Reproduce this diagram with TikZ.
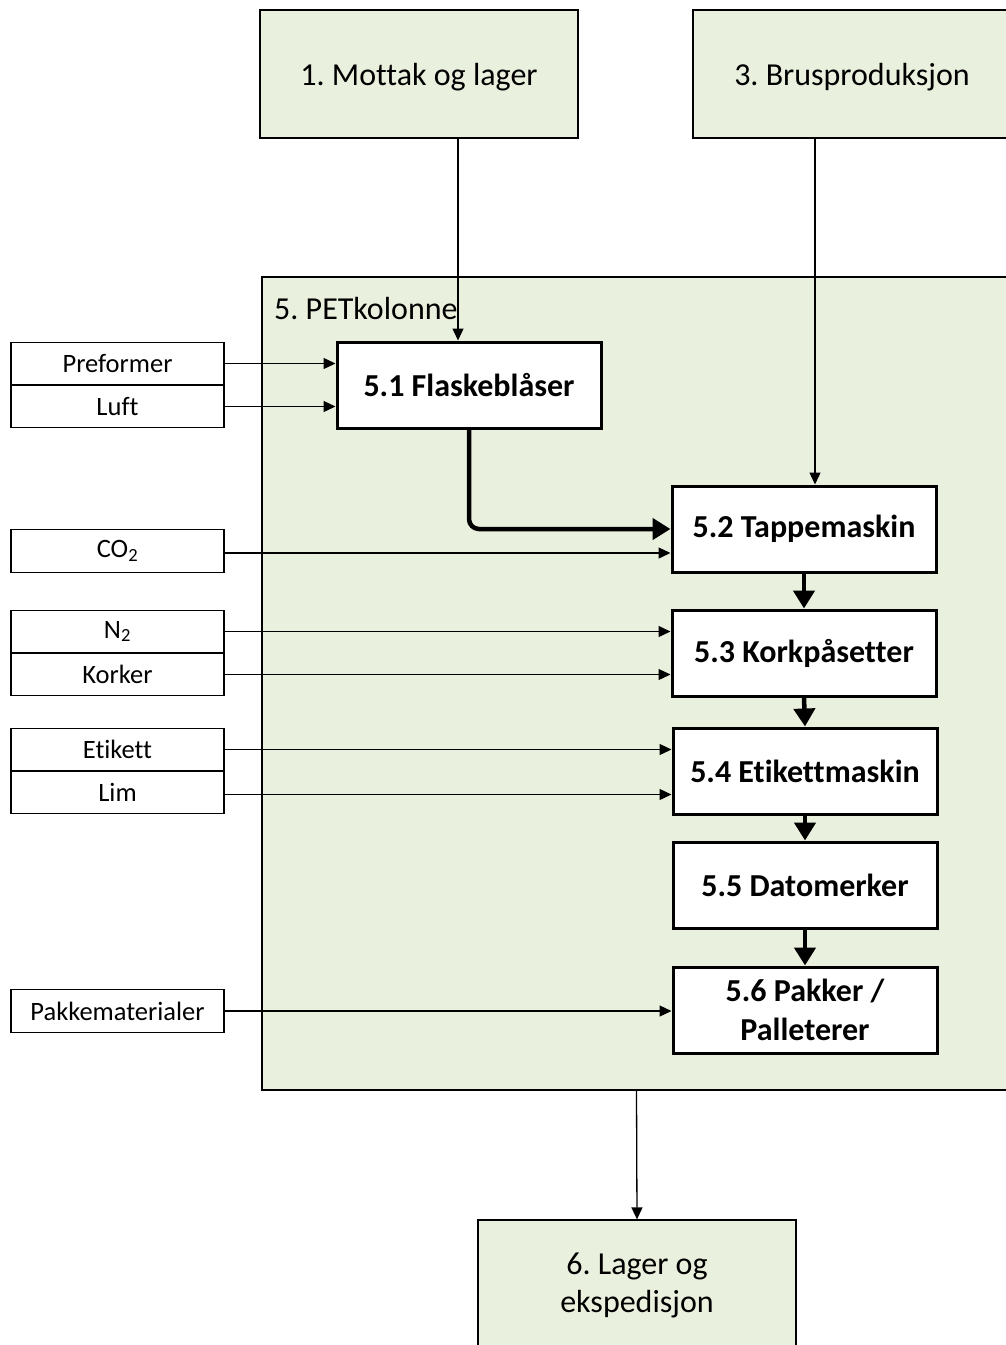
\documentclass[tikz,border=0pt]{standalone}
\usepackage{fontspec}
\setmainfont{Carlito}[Ligatures=CommonOff]
\usetikzlibrary{arrows.meta,positioning}
\definecolor{petgreen}{HTML}{EAF0DE}
\frenchspacing

\tikzset{
  area/.style={draw, fill=petgreen, line width=1.3pt, minimum width=318pt, minimum height=128pt,
    font=\fontsize{32}{38}\selectfont, align=center, inner sep=0pt},
  stage/.style={draw, fill=white, line width=3pt, minimum width=264pt, minimum height=86pt,
    font=\fontsize{32}{39}\selectfont\bfseries, align=center, inner sep=0pt},
  input/.style={draw, fill=white, line width=1.4pt, minimum width=213pt, minimum height=42.5pt,
    font=\fontsize{26.5}{30}\selectfont, inner sep=0pt},
  feed/.style={-{Triangle[length=12pt,width=11pt]}, line width=1.3pt},
  flow/.style={-{Triangle[length=18pt,width=21pt]}, line width=4.5pt},
}

\begin{document}
\begin{tikzpicture}[x=1pt,y=-1pt]
  \useasboundingbox (0,0) rectangle (1006,1345);

  % areas
  \node[area, text depth=-4pt] (m1) at (419,74) {1. Mottak og lager};
  \node[area, text depth=-4pt] (b3) at (852,74) {3. Brusproduksjon};
  \node[area, minimum width=749pt, minimum height=813pt] (pet) at (636.5,683.5) {};
  \node[anchor=west, inner sep=0pt, font=\fontsize{32}{38}\selectfont] (petlabel) at (274,309) {5. PETkolonne};
  \node[area, minimum height=130pt] (lager) at (637,1285) {6. Lager og\\ekspedisjon};

  % stages in the PET line
  \node[stage] (s51) at (469,385) {5.1 Flaskeblåser};
  \node[stage] (s52) at (804,529) {5.2 Tappemaskin};
  \node[stage] (s53) at (804,653) {5.3 Korkpåsetter};
  \node[stage] (s54) at (805,771) {5.4 Etikettmaskin};
  \node[stage] (s55) at (805,885) {5.5 Datomerker};
  \node[stage] (s56) at (805,1010) {5.6 Pakker /\\Palleterer};

  % inputs
  \node[input] (pre) at (117.5,363.5) {Preformer};
  \node[input] (luft) at (117.5,406.5) {Luft};
  \node[input] (co2) at (117.5,551) {CO\textsubscript{2}};
  \node[input] (n2) at (117.5,631.5) {N\textsubscript{2}};
  \node[input] (kork) at (117.5,674.5) {Korker};
  \node[input] (etik) at (117.5,749.5) {Etikett};
  \node[input] (lim) at (117.5,792.5) {Lim};
  \node[input] (pakk) at (117.5,1011) {Pakkematerialer};

  % feeds
  \draw[feed] ([xshift=39pt]m1.south) -- ([xshift=39pt]m1.south |- s51.north);
  \draw[feed] ([xshift=-37pt]b3.south) -- ([xshift=-37pt]b3.south |- s52.north);
  \draw[feed] (pre.east) -- (pre.east -| s51.west);
  \draw[feed] (luft.east) -- (luft.east -| s51.west);
  \draw[feed] ([yshift=-2pt]co2.east) -- ([yshift=-2pt]co2.east -| s52.west);
  \draw[feed] (n2.east) -- (n2.east -| s53.west);
  \draw[feed] (kork.east) -- (kork.east -| s53.west);
  \draw[feed] (etik.east) -- (etik.east -| s54.west);
  \draw[feed] ([yshift=-2pt]lim.east) -- ([yshift=-2pt]lim.east -| s54.west);
  \draw[feed] (pakk.east) -- (pakk.east -| s56.west);
  \draw[feed] (pet.south) -- (lager.north);

  % main flow
  \draw[flow, rounded corners=10pt] (s51.south) |- (s52.west);
  \draw[flow] (s52.south) -- (s53.north);
  \draw[flow] (s53.south) -- (s54.north);
  \draw[flow] (s54.south) -- (s55.north);
  \draw[flow] (s55.south) -- (s56.north);
\end{tikzpicture}
\end{document}
